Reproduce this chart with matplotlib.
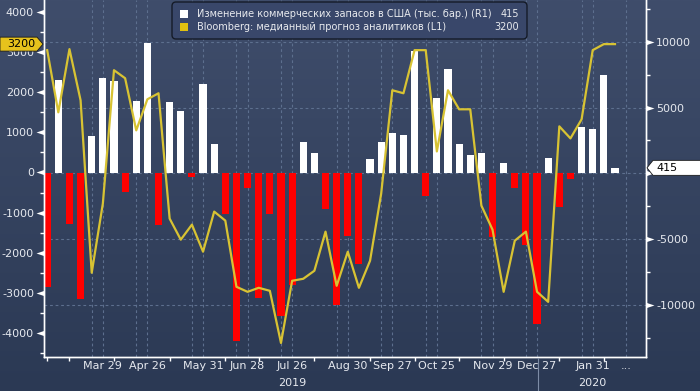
import numpy as np
import pandas as pd
import matplotlib
matplotlib.use('Agg')
import matplotlib.pyplot as plt
import matplotlib.dates as mdates
import matplotlib.transforms as mtransforms
from matplotlib.colors import LinearSegmentedColormap
from matplotlib.patches import Polygon, Rectangle, FancyBboxPatch
from matplotlib.lines import Line2D
from matplotlib.path import Path

plt.rcParams['font.family'] = ['DejaVu Sans']
plt.rcParams['axes.unicode_minus'] = False

# weekly data, week ending Friday
weeks = pd.date_range('2019-02-22', periods=52, freq='W-FRI')

# change in US commercial crude stocks, thousand barrels (R1)
stock_change = [-8650, 7070, -3860, -9590, 2800, 7240, 7030, -1400, 5480, 9930,
                -3960, 5430, 4740, -280, 6770, 2210, -3110, -12790, -1090, -9500,
                -3120, -10840, -8500, 2390, 1580, -2730, -10030, -4770, -6910, 1060,
                2410, 3100, 2930, 9280, -1700, 5700, 7930, 2220, 1380, 1570,
                -4860, 820, -1090, -5470, -11460, 1160, -2550, -410, 3550, 3360,
                7460, 415]

# Bloomberg median analyst forecast (L1)
forecast = [3050, 1500, 3075, 1800, -2500, -775, 2550, 2350, 1050, 1825,
            1975, -1150, -1675, -1300, -1975, -975, -1200, -2850, -2975, -2875,
            -2950, -4250, -2700, -2650, -2450, -1475, -2825, -1975, -2875, -2200,
            -525, 2050, 1975, 3050, 3050, 525, 2050, 1575, 1575, -825,
            -1425, -2975, -1700, -1475, -2975, -3225, 1150, 850, 1325, 3050,
            3200, 3200]

label_dates = pd.to_datetime(['2019-03-29', '2019-04-26', '2019-05-31', '2019-06-28',
                              '2019-07-26', '2019-08-30', '2019-09-27', '2019-10-25',
                              '2019-11-29', '2019-12-27', '2020-01-31', '2020-02-21'])
label_texts = ['Mar 29', 'Apr 26', 'May 31', 'Jun 28', 'Jul 26', 'Aug 30',
               'Sep 27', 'Oct 25', 'Nov 29', 'Dec 27', 'Jan 31', '...']
minor_dates = pd.to_datetime(['2019-02-22', '2019-03-08', '2019-04-05', '2019-05-10',
                              '2019-06-14', '2019-07-05', '2019-08-09', '2019-09-13',
                              '2019-10-11', '2019-11-08', '2019-12-06', '2020-01-10',
                              '2020-02-07'])

left_ticks = list(range(-4000, 4001, 1000))
right_ticks = list(range(-10000, 10001, 5000))

legend_labels = ['Изменение коммерческих запасов в США (тыс. бар.) (R1)',
                 'Bloomberg: медианный прогноз аналитиков (L1)']

W, H = 700, 391
fig = plt.figure(figsize=(W / 100, H / 100), dpi=100)

# gradient background
bg = fig.add_axes([0, 0, 1, 1], zorder=-10)
cmap = LinearSegmentedColormap.from_list('bg', ['#2b3954', '#3f4d6b'])
bg.imshow(np.linspace(0, 1, 256).reshape(-1, 1), cmap=cmap, aspect='auto',
          origin='lower', extent=[0, 1, 0, 1])
bg.axis('off')

ax = fig.add_axes([44 / W, 34 / H, 602 / W, 357 / H])
ax2 = ax.twinx()
ax.set_zorder(ax2.get_zorder() + 1)
ax.patch.set_visible(False)
ax2.patch.set_visible(False)

white = '#ffffff'
grid_c = '#5d6f8e'
line_c = '#d8c333'
text_c = '#e6e9ef'

# bars on right axis
colors = [white if v >= 0 else '#ff0000' for v in stock_change]
ax2.bar(weeks, stock_change, width=4.5, color=colors, zorder=2)

# vertical grid: a pair of lines at each labelled week
for d in label_dates:
    for dd in ([d] if d == label_dates[-1] else [d - pd.Timedelta(days=7), d]):
        ax2.axvline(dd, color=grid_c, lw=0.8, ls=(0, (2.5, 2.5)), zorder=0.5)
ax2.grid(axis='y', which='major', color=grid_c, lw=0.8, ls=(0, (2.5, 2.5)))
ax2.set_axisbelow(True)

# forecast line on left axis
ax.plot(weeks, forecast, color=line_c, lw=1.6, zorder=3)

ax.set_xlim(pd.Timestamp('2019-02-20'), pd.Timestamp('2020-03-04 12:00'))
ax.set_ylim(-4600, 4300)
ax2.set_ylim(-13970, 13180)

ax.set_yticks(left_ticks)
ax.set_yticks(np.arange(-4500, 4300, 500), minor=True)
ax.set_yticklabels([str(v) for v in left_ticks])
ax2.set_yticks(right_ticks)
ax2.set_yticks(np.arange(-12500, 13000, 2500), minor=True)
# zero label sits under the value tag
ax2.set_yticklabels(['' if v == 0 else str(v) for v in right_ticks])

ax.set_xticks(mdates.date2num(label_dates))
ax.set_xticklabels(label_texts)
ax.set_xticks(mdates.date2num(minor_dates), minor=True)

for a in (ax, ax2):
    for s in a.spines.values():
        s.set_color(white)
        s.set_linewidth(1)
    a.spines['top'].set_visible(False)

ax.tick_params(axis='x', which='major', length=0, pad=3, labelsize=8, labelcolor=text_c)
ax.tick_params(axis='x', which='minor', length=3, width=1, color=white, direction='out')
ax.tick_params(axis='y', which='major', length=11.5, pad=-4.3, labelsize=8,
               labelcolor=text_c, color=white)
ax.tick_params(axis='y', which='minor', length=3, width=1, color=white)
ax2.tick_params(axis='y', which='major', length=11.5, pad=-4.3, labelsize=8,
                labelcolor=text_c, color=white)
ax2.tick_params(axis='y', which='minor', length=3, width=1, color=white)

# triangle tick marks
left_tri = Path([(0, -1), (0, 1), (-3, 0), (0, -1)])
right_tri = Path([(0, -1), (0, 1), (3, 0), (0, -1)])
for t in ax.yaxis.get_major_ticks():
    t.tick1line.set_marker(left_tri)
    t.tick1line.set_markerfacecolor(white)
    t.tick1line.set_markeredgewidth(0)
for t in ax2.yaxis.get_major_ticks():
    t.tick2line.set_marker(right_tri)
    t.tick2line.set_markerfacecolor(white)
    t.tick2line.set_markeredgewidth(0)

# last-value tags
blend_l = mtransforms.blended_transform_factory(fig.transFigure, ax.transData)
tr_l = fig.dpi_scale_trans + mtransforms.ScaledTranslation(0, forecast[-1], blend_l)
fig.add_artist(Polygon([(0, -0.07), (0.37, -0.07), (0.43, 0), (0.37, 0.07), (0, 0.07)],
                       closed=True, transform=tr_l, facecolor='#e6c21c',
                       edgecolor='#1a1a1a', lw=0.6, zorder=5))
fig.text(21 / W, forecast[-1], str(forecast[-1]), transform=blend_l, ha='center',
         va='center', fontsize=8, color='black', zorder=6)

blend_r = mtransforms.blended_transform_factory(fig.transFigure, ax2.transData)
tr_r = fig.dpi_scale_trans + mtransforms.ScaledTranslation(647 / W, stock_change[-1], blend_r)
fig.add_artist(Polygon([(0, 0), (0.06, 0.075), (0.55, 0.075), (0.55, -0.075), (0.06, -0.075)],
                       closed=True, transform=tr_r, facecolor=white,
                       edgecolor='#1a1a1a', lw=0.6, zorder=5))
fig.text(656 / W, stock_change[-1], str(stock_change[-1]), transform=blend_r,
         ha='left', va='center', fontsize=8, color='black', zorder=6)

# year labels and separator
fig.text(292 / W, 1 - 383 / H, '2019', ha='center', va='center', fontsize=8, color=text_c)
fig.text(592 / W, 1 - 383 / H, '2020', ha='center', va='center', fontsize=8, color=text_c)
fig.add_artist(Line2D([538 / W, 538 / W], [0, 1 - 358 / H], transform=fig.transFigure,
                      color='#7d8ca6', lw=0.8))

# legend box
fig.add_artist(FancyBboxPatch((1.72, 3.52), 3.55, 0.37, boxstyle='round,pad=0,rounding_size=0.04',
                              transform=fig.dpi_scale_trans, facecolor='#39476a',
                              edgecolor='#151b28', lw=1, zorder=4))
rows = [(14, white, legend_labels[0], stock_change[-1]),
        (27, '#e0c010', legend_labels[1], forecast[-1])]
for y, c, lab, val in rows:
    fig.add_artist(Rectangle((180 / W, 1 - (y + 4) / H), 8 / W, 8 / H,
                             transform=fig.transFigure, facecolor=c, edgecolor='none', zorder=5))
    fig.text(197 / W, 1 - y / H, lab, ha='left', va='center', fontsize=7,
             color='#e8eaee', zorder=6)
    fig.text(519 / W, 1 - y / H, str(val), ha='right', va='center', fontsize=7,
             color='#e8eaee', zorder=6)

fig.savefig('out.png', dpi=100)
